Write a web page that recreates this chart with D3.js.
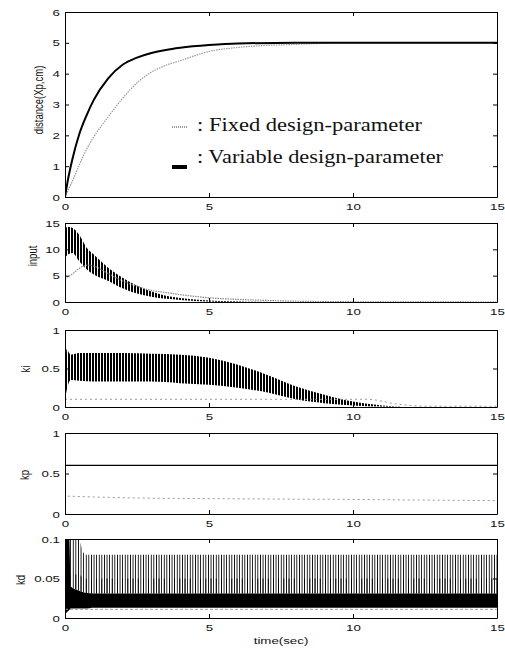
<!DOCTYPE html>
<html>
<head>
<meta charset="utf-8">
<script src="https://cdn.jsdelivr.net/npm/d3@7"></script>
<style>
  body { margin: 0; background: #fff; }
  svg text { font-family: "Liberation Sans", Arial, sans-serif; fill: #111; }
</style>
</head>
<body>
<div id="chart"></div>
<script>
// ---- data ----
var xTicks = [0, 5, 10, 15];

// distance (Xp, cm)
var tDist    = [0, 0.1, 0.25, 0.5, 0.75, 1, 1.5, 2, 2.5, 3, 3.5, 4, 5, 6, 8, 10, 15];
var distVar  = [0, 0.55, 1.2, 2.05, 2.65, 3.15, 3.85, 4.29, 4.52, 4.67, 4.77, 4.84, 4.93, 4.98, 5, 5, 5];
var distFix  = [0, 0.2, 0.5, 1.05, 1.55, 1.95, 2.6, 3.2, 3.7, 4.05, 4.27, 4.42, 4.72, 4.85, 4.95, 5, 5];

// input : envelope of the oscillating variable-parameter signal + fixed signal
var tIn      = [0, 0.1, 0.25, 0.5, 0.75, 1, 1.5, 2, 2.5, 3, 3.5, 4, 5, 6, 8, 15];
var inHigh   = [14, 14.3, 14.1, 12.7, 10.3, 9, 6.5, 4.6, 3.1, 2, 1.2, 0.75, 0.3, 0.1, 0, 0];
var inLow    = [8.4, 9, 9.3, 7.7, 6.2, 5.2, 4, 2.6, 1.6, 1, 0.6, 0.4, 0.1, 0, 0, 0];
var tInF     = [0, 0.02, 0.1, 0.3, 0.5, 0.8, 1, 1.5, 2, 2.5, 3, 3.5, 4, 5, 6, 7, 8, 10, 15];
var inFix    = [2, 4.6, 4.8, 5.5, 6.4, 7, 6.8, 5.4, 4, 3, 2.2, 1.8, 1.4, 0.8, 0.5, 0.3, 0.15, 0.05, 0];

// ki
var tKi      = [0, 0.05, 0.2, 0.5, 1, 2, 3, 4, 5, 6, 7, 8, 9, 10, 11, 12, 15];
var kiHigh   = [0.2, 0.75, 0.68, 0.7, 0.7, 0.7, 0.69, 0.68, 0.64, 0.55, 0.42, 0.27, 0.16, 0.07, 0.02, 0, 0];
var kiLow    = [0.1, 0.2, 0.35, 0.34, 0.33, 0.33, 0.33, 0.31, 0.29, 0.25, 0.19, 0.1, 0.05, 0.02, 0.005, 0, 0];
var tKiF     = [0, 10.5, 11.5, 12.5, 15];
var kiFix    = [0.1, 0.1, 0.04, 0.01, 0.01];

// kp
var tKp      = [0, 15];
var kpVar    = [0.6, 0.6];
var tKpF     = [0, 0.02, 1, 3, 5, 7, 10, 13, 15];
var kpFix    = [0, 0.22, 0.21, 0.195, 0.19, 0.185, 0.18, 0.17, 0.165];

// kd : solid band, spike tops, fixed signal
var tKd      = [0, 0.15, 0.2, 0.45, 0.7, 1, 15];
var kdLow    = [0.005, 0.01, 0.012, 0.012, 0.012, 0.013, 0.013];
var kdBand   = [0.1, 0.1, 0.04, 0.035, 0.032, 0.031, 0.031];
var kdMid    = [0.1, 0.1, 0.055, 0.055, 0.05, 0.05, 0.05];
var kdSpike  = [0.1, 0.1, 0.1, 0.1, 0.08, 0.08, 0.08];
var tKdF     = [0, 15];
var kdFix    = [0.011, 0.011];

// ---- layout ----
var W = 505, H = 650, left = 65, right = 497;
var SX = 1.4; // the scanned lettering is stretched sideways
var svg = d3.select("#chart").append("svg").attr("width", W).attr("height", H);
var defs = svg.append("defs");
var x = d3.scaleLinear().domain([0, 15]).range([left, right]);

function stripes(id, period, width) {
  var p = defs.append("pattern").attr("id", id).attr("patternUnits", "userSpaceOnUse")
    .attr("x", left).attr("y", 0).attr("width", period).attr("height", 20);
  p.append("rect").attr("x", 0).attr("y", 0).attr("width", width).attr("height", 20)
    .attr("fill", "#000").attr("shape-rendering", "crispEdges");
}
stripes("stIn", 3, 1.6);
stripes("stKi", 3, 2);
stripes("stKd", 2.6, 1);
stripes("stKd2", 5.2, 1);

function rows(t, a, b) {
  return t.map(function(v, i) { return {t: v, a: a[i], b: b ? b[i] : null}; });
}

var panels = [
  {top: 12,  bottom: 197, domain: [0, 6],    ticks: [0,1,2,3,4,5,6], fmt: d3.format("d"), label: "distance(Xp,cm)", lx: 38, ly: 100},
  {top: 223, bottom: 302, domain: [0, 15],   ticks: [0,5,10,15],     fmt: d3.format("d"), label: "input", lx: 32, ly: 256},
  {top: 330, bottom: 407, domain: [0, 1],    ticks: [0,0.5,1],       fmt: d3.format("~g"), label: "ki", lx: 25, ly: 369},
  {top: 433, bottom: 514, domain: [0, 1],    ticks: [0,0.5,1],       fmt: d3.format("~g"), label: "kp", lx: 24, ly: 475},
  {top: 539, bottom: 618, domain: [0, 0.1],  ticks: [0,0.05,0.1],    fmt: d3.format("~g"), label: "kd", lx: 20, ly: 580}
];

panels.forEach(function(p, i) {
  p.y = d3.scaleLinear().domain(p.domain).range([p.bottom, p.top]);
  defs.append("clipPath").attr("id", "clip" + i).append("rect")
    .attr("x", left).attr("y", p.top).attr("width", right - left).attr("height", p.bottom - p.top);
  p.g = svg.append("g");
  p.plot = p.g.append("g").attr("clip-path", "url(#clip" + i + ")");
});

function line(p, data, stroke, width, dash) {
  var gen = d3.line().curve(d3.curveMonotoneX)
    .x(function(d) { return x(d.t); }).y(function(d) { return p.y(d.a); });
  p.plot.append("path").datum(data).attr("d", gen).attr("fill", "none")
    .attr("stroke", stroke).attr("stroke-width", width).attr("stroke-dasharray", dash || null);
}
function band(p, data, fill) {
  var gen = d3.area().curve(d3.curveMonotoneX).x(function(d) { return x(d.t); })
    .y0(function(d) { return p.y(d.a); }).y1(function(d) { return p.y(d.b); });
  p.plot.append("path").datum(data).attr("d", gen).attr("fill", fill);
}

// distance
line(panels[0], rows(tDist, distFix), "#999", 1.2, "1.5,1");
line(panels[0], rows(tDist, distVar), "#000", 2);

// input
band(panels[1], rows(tIn, inLow, inHigh), "url(#stIn)");
line(panels[1], rows(tInF, inFix), "#888", 1.2, "1.5,1");

// ki
band(panels[2], rows(tKi, kiLow, kiHigh), "url(#stKi)");
line(panels[2], rows(tKiF, kiFix), "#999", 1, "2,3");

// kp
line(panels[3], rows(tKpF, kpFix), "#999", 1, "2,3");
line(panels[3], rows(tKp, kpVar), "#000", 1.2);

// kd
band(panels[4], rows(tKd, kdBand, kdSpike), "url(#stKd)");
band(panels[4], rows(tKd, kdBand, kdMid), "url(#stKd2)");
band(panels[4], rows(tKd, kdLow, kdBand), "#000");
line(panels[4], rows(tKdF, kdFix), "#999", 1, "3,2");

// axes (MATLAB-style box with inward ticks)
function styleAxis(sel) {
  sel.attr("font-family", null).attr("font-size", null);
  sel.select(".domain").attr("stroke", "#000").attr("stroke-width", 1);
  sel.selectAll(".tick line").attr("stroke", "#000");
}
panels.forEach(function(p) {
  var g = p.g;
  g.append("g").attr("transform", "translate(0," + p.bottom + ")")
    .call(d3.axisBottom(x).tickValues(xTicks).tickSizeInner(-4).tickSizeOuter(0).tickPadding(6).tickFormat(d3.format("d")))
    .call(styleAxis)
    .selectAll("text").style("font-size", "9.5px").attr("transform", "scale(" + SX + ",1)");
  g.append("g").attr("transform", "translate(0," + p.top + ")")
    .call(d3.axisTop(x).tickValues(xTicks).tickSizeInner(-4).tickSizeOuter(0).tickFormat(""))
    .call(styleAxis);
  g.append("g").attr("transform", "translate(" + left + ",0)")
    .call(d3.axisLeft(p.y).tickValues(p.ticks).tickSizeInner(-4).tickSizeOuter(0).tickPadding(5).tickFormat(p.fmt))
    .call(styleAxis)
    .selectAll("text").style("font-size", "9.5px").attr("x", -5 / SX).attr("transform", "scale(" + SX + ",1)");
  g.append("g").attr("transform", "translate(" + right + ",0)")
    .call(d3.axisRight(p.y).tickValues(p.ticks).tickSizeInner(-4).tickSizeOuter(0).tickFormat(""))
    .call(styleAxis);

  svg.append("text")
    .attr("transform", "translate(" + p.lx + "," + p.ly + ") scale(" + SX + ",1) rotate(-90)")
    .attr("text-anchor", "middle").attr("dy", "0.35em").style("font-size", "9.5px")
    .text(p.label);
});

svg.append("text")
  .attr("transform", "translate(" + ((left + right) / 2) + ",644) scale(" + SX + ",1)")
  .attr("text-anchor", "middle").style("font-size", "9.5px")
  .text("time(sec)");

// legend
var leg = svg.append("g");
leg.append("line").attr("x1", 172).attr("x2", 187).attr("y1", 127).attr("y2", 127)
  .attr("stroke", "#999").attr("stroke-width", 2).attr("stroke-dasharray", "1,1");
leg.append("rect").attr("x", 172).attr("y", 165).attr("width", 15).attr("height", 4).attr("fill", "#000");
leg.append("text").attr("x", 197).attr("y", 131)
  .attr("textLength", 225).attr("lengthAdjust", "spacingAndGlyphs")
  .style("font-family", "'Liberation Serif', 'Times New Roman', serif").style("font-size", "19px")
  .text(": Fixed design-parameter");
leg.append("text").attr("x", 197).attr("y", 163)
  .attr("textLength", 246).attr("lengthAdjust", "spacingAndGlyphs")
  .style("font-family", "'Liberation Serif', 'Times New Roman', serif").style("font-size", "19px")
  .text(": Variable design-parameter");
</script>
</body>
</html>
